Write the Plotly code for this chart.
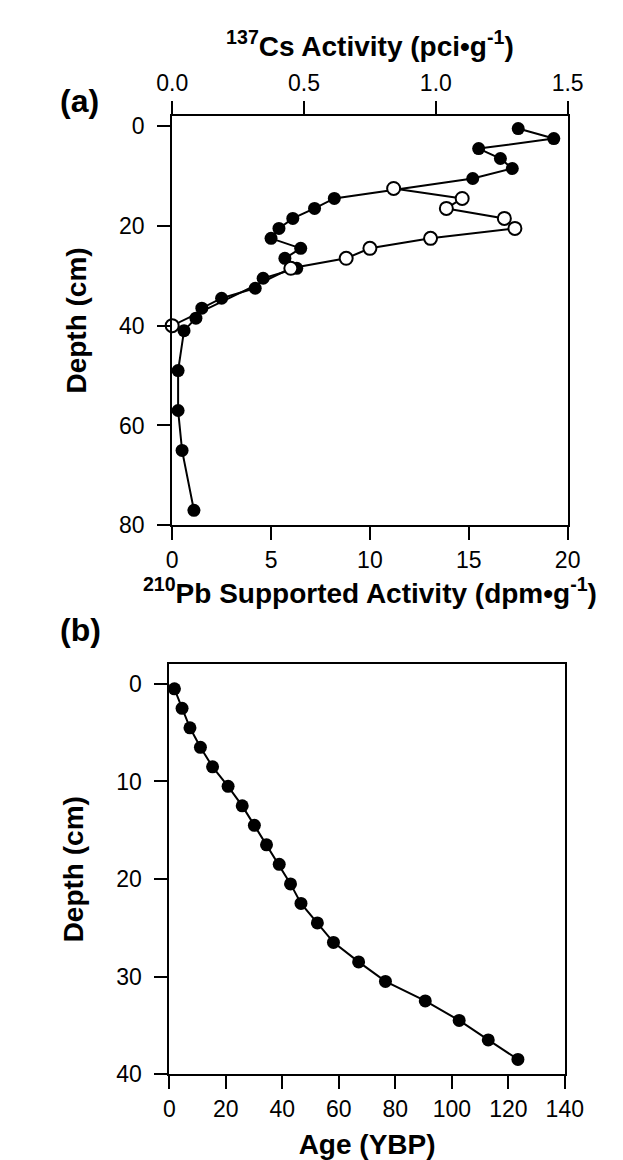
import plotly.graph_objects as go

# ---- Panel (a) data ----
pb_depth = [0.5, 2.5, 4.5, 6.5, 8.5, 10.5, 14.5, 16.5, 18.5, 20.5, 22.5, 24.5,
            26.5, 28.5, 30.5, 32.5, 34.5, 36.5, 38.5, 41, 49, 57, 65, 77]
pb_activity = [17.5, 19.3, 15.5, 16.6, 17.2, 15.2, 8.2, 7.2, 6.1, 5.4, 5.0, 6.5,
               5.7, 6.3, 4.6, 4.2, 2.5, 1.5, 1.2, 0.6, 0.3, 0.3, 0.5, 1.1]

cs_depth = [12.5, 14.5, 16.5, 18.5, 20.5, 22.5, 24.5, 26.5, 28.5, 40]
cs_activity = [0.84, 1.10, 1.04, 1.26, 1.30, 0.98, 0.75, 0.66, 0.45, 0.0]

pb_ticks = [0, 5, 10, 15, 20]
cs_ticks = [0.0, 0.5, 1.0, 1.5]
cs_ticklabels = ["0.0", "0.5", "1.0", "1.5"]
depth_a_ticks = [0, 20, 40, 60, 80]

# ---- Panel (b) data ----
age_depth = [0.5, 2.5, 4.5, 6.5, 8.5, 10.5, 12.5, 14.5, 16.5, 18.5,
             20.5, 22.5, 24.5, 26.5, 28.5, 30.5, 32.5, 34.5, 36.5, 38.5]
age_ybp = [1.8, 4.5, 7.3, 11.0, 15.3, 20.8, 25.8, 30.1, 34.4, 38.9,
           42.9, 46.6, 52.4, 58.1, 67.0, 76.5, 90.6, 102.6, 112.9, 123.4]

age_ticks = [0, 20, 40, 60, 80, 100, 120, 140]
depth_b_ticks = [0, 10, 20, 30, 40]

W, H = 623, 1160
FAM = "Liberation Sans, Arial, Helvetica, sans-serif"
tickfont = dict(family=FAM, size=23, color="black")
titlefont = dict(family=FAM, size=28, color="black", weight="bold")

common = dict(showline=True, linewidth=2, linecolor="black", ticks="outside",
              ticklen=13, tickwidth=2, tickcolor="black", showgrid=False,
              zeroline=False, tickfont=tickfont)

def fx(p):
    return p / W

def fy(p):
    return 1 - p / H

fig = go.Figure()
fig.add_trace(go.Scatter(x=pb_activity, y=pb_depth, xaxis="x", yaxis="y",
                         mode="lines+markers", cliponaxis=False,
                         line=dict(color="black", width=2),
                         marker=dict(size=13, color="black"),
                         name="210Pb"))
fig.add_trace(go.Scatter(x=cs_activity, y=cs_depth, xaxis="x2", yaxis="y",
                         mode="lines+markers", cliponaxis=False,
                         line=dict(color="black", width=2),
                         marker=dict(size=13, color="white",
                                     line=dict(color="black", width=2)),
                         name="137Cs"))
fig.add_trace(go.Scatter(x=age_ybp, y=age_depth, xaxis="x3", yaxis="y2",
                         mode="lines+markers", cliponaxis=False,
                         line=dict(color="black", width=2),
                         marker=dict(size=13, color="black"),
                         name="Age"))

fig.update_layout(
    width=W, height=H, margin=dict(l=0, r=0, t=0, b=0),
    plot_bgcolor="white", paper_bgcolor="white", showlegend=False,
    xaxis=dict(domain=[fx(157), fx(576)], range=[0, 20], tickvals=pb_ticks,
               anchor="y", side="bottom",
               title=dict(text="<sup>210</sup>Pb Supported Activity (dpm•g<sup>-1</sup>)",
                          font=titlefont, standoff=8), **common),
    xaxis2=dict(range=[0, 1.5], tickvals=cs_ticks, ticktext=cs_ticklabels,
                overlaying="x", side="top", anchor="y",
                title=dict(text="<sup>137</sup>Cs Activity (pci•g<sup>-1</sup>)",
                           font=titlefont, standoff=6), **common),
    yaxis=dict(domain=[fy(522), fy(107)], range=[80, -2.1], tickvals=depth_a_ticks,
               anchor="x", mirror=True, ticklabelstandoff=8,
               title=dict(text="Depth (cm)", font=titlefont, standoff=24), **common),
    xaxis3=dict(domain=[fx(154), fx(573)], range=[0, 140], tickvals=age_ticks,
                anchor="y2", mirror=True,
                title=dict(text="Age (YBP)", font=titlefont, standoff=14), **common),
    yaxis2=dict(domain=[fy(1078), fy(663)], range=[40, -2], tickvals=depth_b_ticks,
                anchor="x3", mirror=True, ticklabelstandoff=8,
                title=dict(text="Depth (cm)", font=titlefont, standoff=24), **common),
    annotations=[
        dict(text="(a)", x=fx(36), y=fy(72), xref="paper", yref="paper",
             showarrow=False, font=dict(family=FAM, size=32, color="black", weight="bold")),
        dict(text="(b)", x=fx(36), y=fy(628), xref="paper", yref="paper",
             showarrow=False, font=dict(family=FAM, size=32, color="black", weight="bold")),
    ],
)

fig.write_html("out.html")
